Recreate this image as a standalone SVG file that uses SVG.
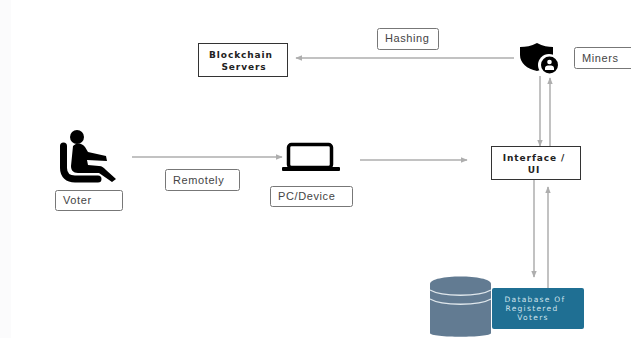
<svg xmlns="http://www.w3.org/2000/svg" width="631" height="338" viewBox="0 0 631 338">
<defs>
<marker id="arr" viewBox="0 0 10 8" refX="9" refY="4" markerWidth="7" markerHeight="6" markerUnits="userSpaceOnUse" orient="auto"><path d="M0 0L10 4L0 8Z" fill="#aeaeae"/></marker>
</defs>
<style>
.lb{fill:#fff;stroke:#777;stroke-width:1}
.bx{fill:#fff;stroke:#333;stroke-width:1}
.t{font-family:"Liberation Sans",Arial,sans-serif;font-size:11px;fill:#444;letter-spacing:.6px}
.b{font-family:"DejaVu Sans",sans-serif;font-size:9px;font-weight:bold;fill:#222;text-anchor:middle;letter-spacing:.9px}
.c line{stroke:#aeaeae;stroke-width:1.5;marker-end:url(#arr)}
</style>
<rect x="0" y="0" width="11" height="338" fill="#fbfbfc"/>
<g class="c" id="connectors">
<line x1="132" y1="157" x2="282" y2="157"/>
<line x1="360" y1="160" x2="467" y2="160"/>
<line x1="514" y1="58" x2="296" y2="58"/>
<line x1="540" y1="76" x2="540" y2="146"/>
<line x1="550" y1="146" x2="550" y2="78"/>
<line x1="534" y1="180" x2="534" y2="277"/>
<line x1="548" y1="288" x2="548" y2="187"/>
</g>
<g id="voter">
<ellipse cx="77" cy="137" rx="7" ry="7" fill="#000"/>
<path d="M73 146C77 142 82 143 85 147L88 152L106 156L107 161L87 160L88 165L99 166C102 166 104 168 106 170L116 179L112 182L99 173L78 173C73 173 71 170 71 166Z" fill="#000"/>
<path d="M63.500 146V168C63.500 175 68 179 75 179H98" fill="none" stroke="#000" stroke-width="7" stroke-linecap="round"/>
<rect class="lb" x="55.500" y="190.500" width="67" height="20" rx="2"/>
<text class="t" x="63" y="204">Voter</text>
</g>
<g id="remotely">
<rect class="lb" x="165.500" y="169.500" width="74" height="21" rx="2"/>
<text class="t" x="173" y="184">Remotely</text>
</g>
<g id="pc">
<rect x="288.500" y="144.500" width="43" height="23" rx="3" fill="#fff" stroke="#000" stroke-width="3.500"/>
<rect x="282" y="167" width="58" height="4" rx="1" fill="#000"/>
<rect class="lb" x="270.500" y="186.500" width="82" height="20" rx="2"/>
<text class="t" x="278" y="200">PC/Device</text>
</g>
<g id="blockchain">
<rect class="bx" x="198.500" y="43.500" width="89" height="33"/>
<text class="b" x="241" y="58">Blockchain</text>
<text class="b" x="244" y="70">Servers</text>
</g>
<g id="hashing">
<rect class="lb" x="377.500" y="28.500" width="61" height="21" rx="2"/>
<text class="t" x="385" y="42">Hashing</text>
</g>
<g id="miners-icon">
<path d="M537 43C531 46 526 47 520 47V55C520 63 527 69 537 71C546 69 553 62 553 55V47C548 47 543 46 537 43Z" fill="#000"/>
<circle cx="549" cy="65" r="11" fill="#fff"/>
<circle cx="549.500" cy="65" r="8.500" fill="#000"/>
<circle cx="549.500" cy="62" r="2.300" fill="#fff"/>
<path d="M545 70V68C545 66 547 65.500 549.500 65.500S554 66 554 68V70Z" fill="#fff"/>
</g>
<g id="miners">
<rect class="lb" x="574.500" y="47.500" width="70" height="21" rx="2"/>
<text class="t" x="582" y="62">Miners</text>
</g>
<g id="interface">
<rect class="bx" x="491.500" y="146.500" width="89" height="33"/>
<text class="b" x="534" y="161">Interface /</text>
<text class="b" x="534" y="173">UI</text>
</g>
<g id="database">
<path d="M430 284C430 274 491 274 491 284V333C491 338 430 338 430 333Z" fill="#627b92"/>
<path d="M430 290C442 297 479 297 491 290M430 299C442 306 479 306 491 299" fill="none" stroke="#dfe7ec" stroke-width="1.300"/>
<rect x="492" y="288" width="92" height="41" rx="2" fill="#1f6f93"/>
<g font-family="'DejaVu Sans',sans-serif" font-size="7.500" fill="#cfe3ec" text-anchor="middle" letter-spacing="1.300">
<text x="535" y="302">Database Of</text>
<text x="532" y="311">Registered</text>
<text x="533" y="320">Voters</text>
</g>
</g>
</svg>
